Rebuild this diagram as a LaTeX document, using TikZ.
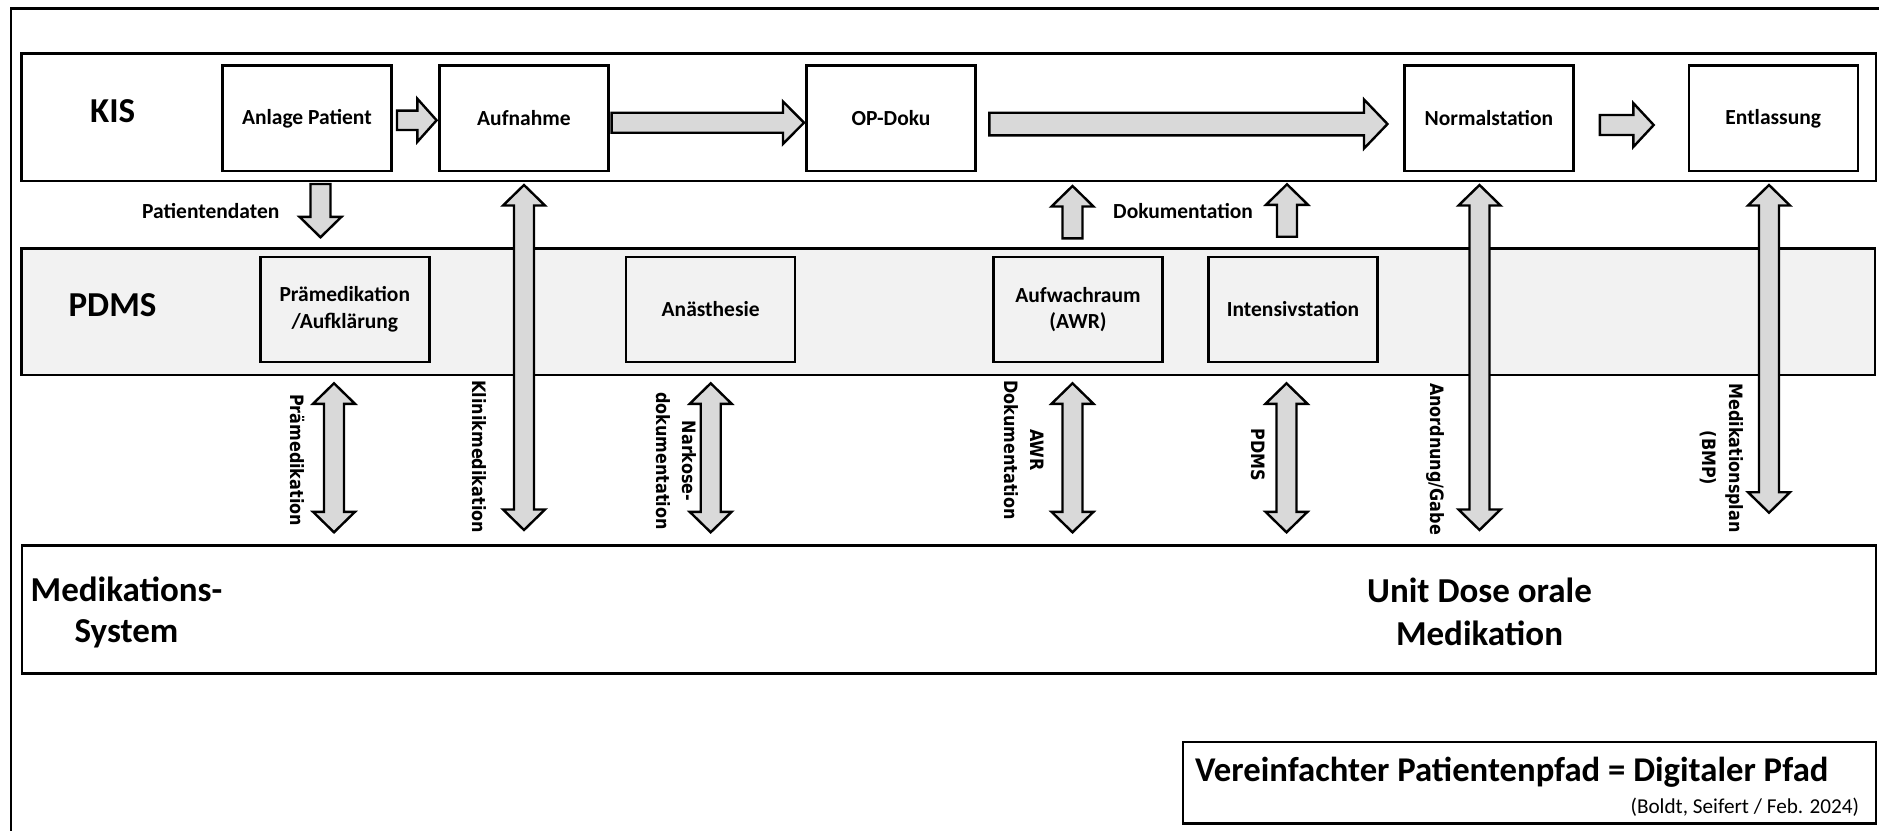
\documentclass[tikz,border=0pt]{standalone}
\usepackage{fontspec}
\setmainfont{Carlito}
\newfontfamily\rotfont{DejaVu Sans}
\usetikzlibrary{calc}
\definecolor{bandgray}{HTML}{F2F2F2}
\definecolor{arrowgray}{HTML}{D9D9D9}
\tikzset{
  band/.style={draw=black, line width=2.4pt, inner sep=0pt},
  box/.style={draw=black, line width=2.4pt, minimum width=169pt, minimum height=105.5pt,
    font=\fontsize{21.5}{26.7}\selectfont\bfseries, align=center, inner sep=0pt},
  bandlabel/.style={font=\fontsize{35}{42}\selectfont\bfseries, align=center, inner sep=0pt},
  sidelabel/.style={font=\fontsize{21.5}{26}\selectfont\bfseries, inner sep=0pt, anchor=base west},
  rotlabel/.style={font=\rotfont\bfseries\fontsize{16}{23}\selectfont, rotate=-90, yscale=1.15, align=center, inner sep=0pt},
  blk/.style={draw=black, line width=2.4pt, fill=arrowgray, line join=miter},
}
% vertical double block arrow: #1 top tip, #2 bottom tip
\newcommand\VDbl[2]{\draw[blk] let \p1=(#1), \p2=(#2) in
  (\x1,\y1) -- (\x1+21pt,\y1-20.5pt) -- (\x1+10pt,\y1-20.5pt) -- (\x1+10pt,\y2+20.5pt)
  -- (\x1+21pt,\y2+20.5pt) -- (\x1,\y2) -- (\x1-21pt,\y2+20.5pt) -- (\x1-10pt,\y2+20.5pt)
  -- (\x1-10pt,\y1-20.5pt) -- (\x1-21pt,\y1-20.5pt) -- cycle;}
% vertical up arrow: #1 tip (top), #2 tail (bottom)
\newcommand\VUp[2]{\draw[blk] let \p1=(#1), \p2=(#2) in
  (\x1,\y1) -- (\x1+21pt,\y1-20.5pt) -- (\x1+10pt,\y1-20.5pt) -- (\x1+10pt,\y2)
  -- (\x1-10pt,\y2) -- (\x1-10pt,\y1-20.5pt) -- (\x1-21pt,\y1-20.5pt) -- cycle;}
% vertical down arrow: #1 tail (top), #2 tip (bottom)
\newcommand\VDown[2]{\draw[blk] let \p1=(#1), \p2=(#2) in
  (\x2,\y2) -- (\x2+21pt,\y2+20.5pt) -- (\x2+10pt,\y2+20.5pt) -- (\x2+10pt,\y1)
  -- (\x2-10pt,\y1) -- (\x2-10pt,\y2+20.5pt) -- (\x2-21pt,\y2+20.5pt) -- cycle;}
% horizontal right arrow: #1 tail, #2 tip, #3 shaft half, #4 head half, #5 head length
\newcommand\HRight[5]{\draw[blk] let \p1=(#1), \p2=(#2) in
  (\x2,\y2) -- (\x2-#5,\y2+#4) -- (\x2-#5,\y2+#3) -- (\x1,\y2+#3)
  -- (\x1,\y2-#3) -- (\x2-#5,\y2-#3) -- (\x2-#5,\y2-#4) -- cycle;}

\begin{document}
\begin{tikzpicture}[x=1pt,y=-1pt]
\clip (0,0) rectangle (1879,830);
\fill[white] (0,0) rectangle (1879,830);
% outer frame (cut by the page at right and bottom)
\draw[band] (11,8.3) rectangle (1900,850);

% bands
\node[band, fill=white, minimum width=1854.6pt, minimum height=127.7pt] (kis) at (948.7,117.15) {};
\node[band, fill=bandgray, minimum width=1853.6pt, minimum height=126.7pt] (pdms) at (948.2,311.65) {};
\node[band, fill=white, minimum width=1854pt, minimum height=127.8pt] (meds) at (949,609.4) {};
\node[band, fill=white, minimum width=693.3pt, minimum height=81.6pt] (titlebox) at (1529.35,782.5) {};

% band labels
\node[bandlabel] (kislabel) at (112.7,111.3) {KIS};
\node[bandlabel] (pdmslabel) at (112.5,304.7) {PDMS};
\node[bandlabel, font=\fontsize{35}{41.7}\selectfont\bfseries] (medlabel) at (126.5,612.4) {Medikations-\\System};
\node[bandlabel, font=\fontsize{35}{42.7}\selectfont\bfseries] (udlabel) at (1479.5,611.7) {Unit Dose orale\\Medikation};

% KIS boxes
\node[box, fill=white] (anlage) at (306.9,118.3) {Anlage Patient};
\node[box, fill=white] (aufnahme) at (523.9,118.3) {Aufnahme};
\node[box, fill=white] (opdoku) at (891,118.3) {OP-Doku};
\node[box, fill=white] (normal) at (1488.9,118.3) {Normalstation};
\node[box, fill=white] (entl) at (1773.2,118.3) {Entlassung};

% PDMS boxes
\node[box, fill=bandgray] (praemed) at (344.8,309.5) {Prämedikation\\/Aufklärung};
\node[box, fill=bandgray] (anaes) at (710.7,309.5) {Anästhesie};
\node[box, fill=bandgray] (awr) at (1078,309.5) {Aufwachraum\\(AWR)};
\node[box, fill=bandgray] (intens) at (1293,309.5) {Intensivstation};

% horizontal flow arrows
\coordinate (a1s) at (397,120.3);   \coordinate (a1e) at (436.6,120.3);
\coordinate (a2s) at (611.6,122.7); \coordinate (a2e) at (804,122.7);
\coordinate (a3s) at (989.3,124);   \coordinate (a3e) at (1387.5,124);
\coordinate (a4s) at (1599.8,125);  \coordinate (a4e) at (1653.7,125);
\HRight{a1s}{a1e}{9.7pt}{21.5pt}{19.2pt}
\HRight{a2s}{a2e}{10pt}{21.2pt}{21pt}
\HRight{a3s}{a3e}{11.3pt}{24.5pt}{23.5pt}
\HRight{a4s}{a4e}{10pt}{21.8pt}{20.3pt}

% vertical arrows between KIS and PDMS / Medikation
\coordinate (patT) at (320.5,184);    \coordinate (patB) at (320.5,237.3);
\coordinate (klinT) at (524,185);     \coordinate (klinB) at (524,530);
\coordinate (dok1T) at (1072.5,186);  \coordinate (dok1B) at (1072.5,238.3);
\coordinate (dok2T) at (1287,184.3);  \coordinate (dok2B) at (1287,236.7);
\coordinate (anoT) at (1479.5,185);   \coordinate (anoB) at (1479.5,530);
\coordinate (bmpT) at (1769,185);     \coordinate (bmpB) at (1769,512.7);
\VDown{patT}{patB}
\VDbl{klinT}{klinB}
\VUp{dok1T}{dok1B}
\VUp{dok2T}{dok2B}
\VDbl{anoT}{anoB}
\VDbl{bmpT}{bmpB}

% vertical arrows between PDMS and Medikation
\coordinate (prT) at (334,383.3);     \coordinate (prB) at (334,532.3);
\coordinate (naT) at (710.7,383.3);   \coordinate (naB) at (710.7,532.3);
\coordinate (awT) at (1072.5,383.3);  \coordinate (awB) at (1072.5,532.3);
\coordinate (pdT) at (1286.5,383.3);  \coordinate (pdB) at (1286.5,532.3);
\VDbl{prT}{prB}
\VDbl{naT}{naB}
\VDbl{awT}{awB}
\VDbl{pdT}{pdB}

% side labels
\node[sidelabel] (patlabel) at (142,218.3) {Patientendaten};
\node[sidelabel] (doklabel) at (1113,218.3) {Dokumentation};

% rotated labels
\node[rotlabel] (lpraem) at (297.5,460) {Prämedikation};
\node[rotlabel] (lklinik) at (479,456.7) {Klinikmedikation};
\node[rotlabel] (lnark) at (676.5,461) {Narkose-\\dokumentation};
\node[rotlabel] (lawr) at (1024,450) {AWR\\Dokumentation};
\node[rotlabel] (lpdms) at (1258,455) {PDMS};
\node[rotlabel] (lanord) at (1435,459) {Anordnung/Gabe};
\node[rotlabel] (lmedplan) at (1721.6,458) {Medikationsplan\\(BMP)};

% title
\node[anchor=base west, inner sep=0pt, font=\fontsize{34.7}{40}\selectfont\bfseries] (title) at (1195,781) {Vereinfachter Patientenpfad = Digitaler Pfad};
\node[anchor=base east, inner sep=0pt, font=\fontsize{21.2}{24}\selectfont] (subtitle) at (1859.3,813.3) {(Boldt, Seifert / Feb. 2024)};
\end{tikzpicture}
\end{document}
